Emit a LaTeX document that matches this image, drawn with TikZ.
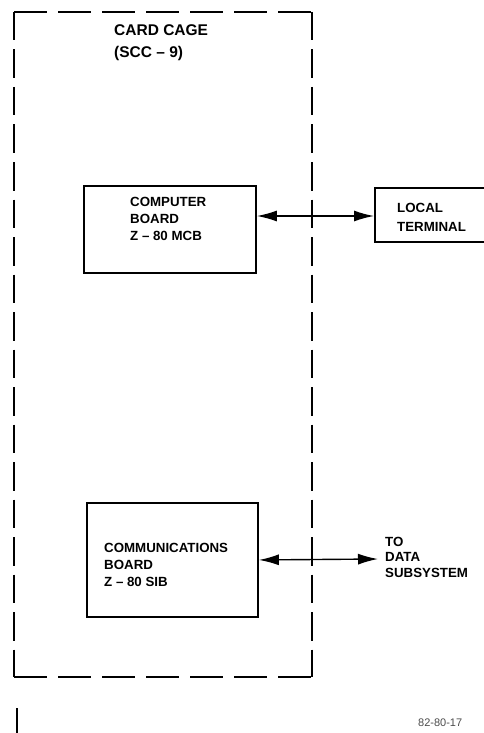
\documentclass[tikz,border=0pt]{standalone}
\usepackage{fontspec}
\setmainfont{Liberation Sans}
\usetikzlibrary{arrows.meta}
\begin{document}
\begin{tikzpicture}[x=1pt,y=-1pt,
  board/.style={draw, line width=1.9pt, rectangle, inner sep=0pt, anchor=north west},
  cage/.style={line width=2.7pt},
  lbl/.style={anchor=north west, inner sep=0pt, align=left, font=\bfseries\fontsize{13.3}{17}\selectfont},
  biglbl/.style={anchor=north west, inner sep=0pt, align=left, font=\bfseries\fontsize{15.5}{22}\selectfont},
  link/.style={line width=1.4pt, {Latex[length=20pt,width=11pt]}-{Latex[length=20pt,width=11pt]}}
]
\useasboundingbox (0,0) rectangle (484,733);
% card cage outline
\coordinate (tl) at (14,12);
\coordinate (tr) at (312,12);
\coordinate (bl) at (14,677);
\coordinate (br) at (312,677);
\draw[cage, dash pattern=on 33pt off 11pt] (tl) -- (tr);
\draw[cage, dash pattern=on 33pt off 11pt] (bl) -- (br);
\draw[cage, dash pattern=on 28.5pt off 9pt] (tl) -- (bl);
\draw[cage, dash pattern=on 28.5pt off 9pt] (tr) -- (br);
\node[biglbl] (cagelbl) at (114,24) {CARD CAGE\\(SCC -- 9)};
% boards
\node[board, minimum width=172pt, minimum height=87pt] (cb) at (83,185) {};
\node[lbl] (cbtxt) at (130,197) {COMPUTER\\BOARD\\Z -- 80 MCB};
\node[board, minimum width=171pt, minimum height=114pt] (comm) at (86,502) {};
\node[lbl] (commtxt) at (104,543) {COMMUNICATIONS\\BOARD\\Z -- 80 SIB};
% local terminal
\node[board, minimum width=120pt, minimum height=54pt] (lt) at (374,187) {};
\node[lbl, font=\bfseries\fontsize{13.3}{19}\selectfont] (lttxt) at (397,203) {LOCAL\\TERMINAL};
% data subsystem label
\coordinate (dataend) at (378,559);
\node[lbl, font=\bfseries\fontsize{13.3}{15.5}\selectfont] (datatxt) at (385,537) {TO\\DATA\\SUBSYSTEM};
% connectors
\draw[link] ([yshift=-31pt]cb.north east) -- ([yshift=-31pt]cb.north east -| lt.west);
\draw[link] (comm.east) -- (dataend);
% stray pieces at bottom
\coordinate (s1) at (17,708);
\coordinate (s2) at (17,740);
\draw[cage] (s1) -- (s2);
\node[anchor=north west, inner sep=0pt, font=\fontsize{11}{13}\selectfont, text=black!70] (fig) at (418,719) {82-80-17};
\end{tikzpicture}
\end{document}
